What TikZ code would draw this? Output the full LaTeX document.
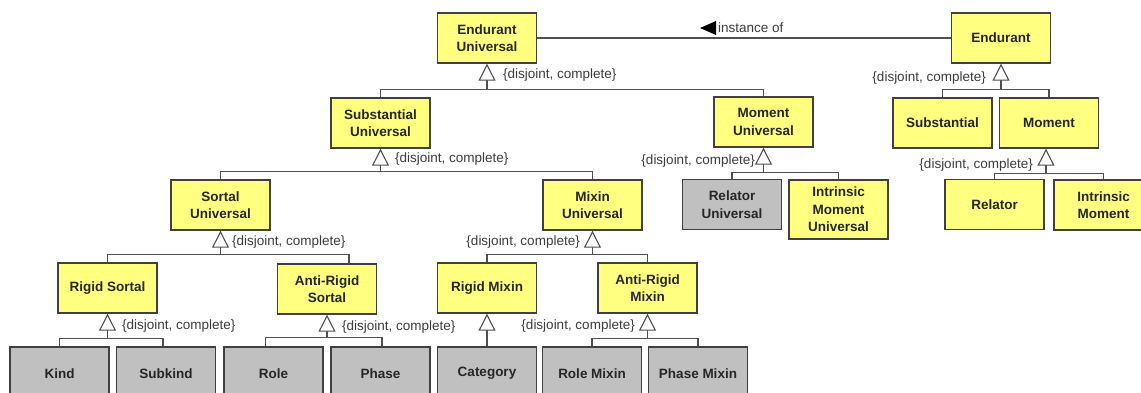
\documentclass[tikz,border=0pt]{standalone}
\usepackage{fontspec}
\setmainfont{Liberation Sans}
\usetikzlibrary{arrows.meta}
\definecolor{umlyellow}{RGB}{255,255,128}
\definecolor{umlgray}{RGB}{192,192,192}
\definecolor{boxline}{RGB}{64,64,64}
\definecolor{wire}{RGB}{80,80,80}
\definecolor{labeltext}{RGB}{60,60,60}
\begin{document}
\begin{tikzpicture}[x=1pt,y=-1pt,
  classbox/.style={draw=boxline, line width=1.4pt, align=center, inner sep=0pt,
    font=\bfseries\fontsize{13.5}{17.5}\selectfont, text=black!85,
    minimum width=99pt, minimum height=50pt},
  ybox/.style={classbox, fill=umlyellow},
  gbox/.style={classbox, fill=umlgray},
  conn/.style={draw=wire, line width=1.1pt},
  gen/.style={conn, -{Triangle[open, length=17pt, width=17pt, line width=1.1pt, fill=white]}},
  gset/.style={font=\fontsize{13.5}{16}\selectfont, text=labeltext, inner sep=0pt}
]
\useasboundingbox (0,0) rectangle (1141,392);
\clip (0,0) rectangle (1141,392);

% universals
\node[ybox] (eu) at (487,38) {Endurant\\Universal};
\node[ybox] (su) at (380.5,123) {Substantial\\Universal};
\node[ybox] (mu) at (763.5,122) {Moment\\Universal};
\node[ybox] (sortu) at (220.5,205) {Sortal\\Universal};
\node[ybox] (mixu) at (592.5,205) {Mixin\\Universal};
\node[gbox] (relu) at (732,204.5) {Relator\\Universal};
\node[ybox, minimum height=59pt] (imu) at (838.5,209.5) {Intrinsic\\Moment\\Universal};
\node[ybox] (rs) at (107.5,288) {Rigid Sortal};
\node[ybox] (ars) at (327,289) {Anti-Rigid\\Sortal};
\node[ybox] (rm) at (487,288) {Rigid Mixin};
\node[ybox] (arm) at (647.5,288) {Anti-Rigid\\Mixin};
\node[gbox, minimum height=53pt] (kind) at (59.5,373.5) {Kind};
\node[gbox, minimum height=53pt] (subkind) at (166,373.5) {Subkind};
\node[gbox, minimum height=53pt] (role) at (273.5,373.5) {Role};
\node[gbox, minimum height=53pt] (phase) at (380.5,373.5) {Phase};
\node[gbox, minimum height=53pt] (cat) at (487,373.5) {Category};
\node[gbox, minimum height=53pt] (rolem) at (592,373.5) {Role Mixin};
\node[gbox, minimum height=53pt] (phasem) at (698,373.5) {Phase Mixin};

% individuals
\node[ybox] (end) at (1001,38) {Endurant};
\node[ybox] (subst) at (942.5,123) {Substantial};
\node[ybox] (mom) at (1049,123) {Moment};
\node[ybox] (rel) at (994.5,204.5) {Relator};
\node[ybox] (im) at (1103.5,205) {Intrinsic\\Moment};

% instance-of association
\draw[conn] (eu.east) -- (end.west);
\node[gset, anchor=west] (inst) at (718,28) {instance of};
\fill[black] ([xshift=-2pt]inst.west) -- ++(0,-7) -- ++(-16,7) -- ++(16,7) -- cycle;

% generalization sets (bus lines sit below each parent)
\coordinate (g1) at ([yshift=-26pt]eu.south);
\draw[conn] (su.north) |- (g1) -| (mu.north);
\draw[gen] (g1) -- (eu.south);
\node[gset, anchor=west] at (503,75) {\{disjoint, complete\}};

\coordinate (g2) at ([yshift=-23pt]su.south);
\draw[conn] (sortu.north) |- (g2) -| (mixu.north);
\draw[gen] (g2) -- (su.south);
\node[gset, anchor=west] at (395,159) {\{disjoint, complete\}};

\coordinate (g3) at ([yshift=-24pt]sortu.south);
\draw[conn] (rs.north) |- (g3) -| ([xshift=22pt]ars.north);
\draw[gen] (g3) -- (sortu.south);
\node[gset, anchor=west] at (232,242) {\{disjoint, complete\}};

\coordinate (g4) at ([yshift=-24pt]mixu.south);
\draw[conn] (rm.north) |- (g4) -| (arm.north);
\draw[gen] (g4) -- (mixu.south);
\node[gset, anchor=east] at (580,242) {\{disjoint, complete\}};

\coordinate (g5) at ([yshift=-25pt]rs.south);
\draw[conn] (kind.north) |- (g5) -| ([xshift=-3pt]subkind.north);
\draw[gen] (g5) -- (rs.south);
\node[gset, anchor=west] at (122,326) {\{disjoint, complete\}};

\coordinate (g6) at ([yshift=-23pt]ars.south);
\draw[conn] ([xshift=-8pt]role.north) |- (g6) -| ([xshift=1.5pt]phase.north);
\draw[gen] (g6) -- (ars.south);
\node[gset, anchor=west] at (342,327) {\{disjoint, complete\}};

\draw[gen] (cat.north) -- (rm.south);

\coordinate (g7) at ([yshift=-25pt]arm.south);
\draw[conn] (rolem.north) |- (g7) -| (phasem.north);
\draw[gen] (g7) -- (arm.south);
\node[gset, anchor=east] at (635,326) {\{disjoint, complete\}};

\coordinate (g8) at ([yshift=-25pt]mu.south);
\draw[conn] (relu.north) |- (g8) -| (imu.north);
\draw[gen] (g8) -- (mu.south);
\node[gset, anchor=east] at (755,161) {\{disjoint, complete\}};

\coordinate (g9) at ([yshift=-26pt]end.south);
\draw[conn] (subst.north) |- (g9) -| (mom.north);
\draw[gen] (g9) -- (end.south);
\node[gset, anchor=east] at (986,78) {\{disjoint, complete\}};

\coordinate (g10) at ([xshift=-3pt, yshift=-25pt]mom.south);
\draw[conn] (rel.north) |- (g10) -| (im.north);
\draw[gen] (g10) -- ([xshift=-3pt]mom.south);
\node[gset, anchor=east] at (1033,165) {\{disjoint, complete\}};
\end{tikzpicture}
\end{document}
